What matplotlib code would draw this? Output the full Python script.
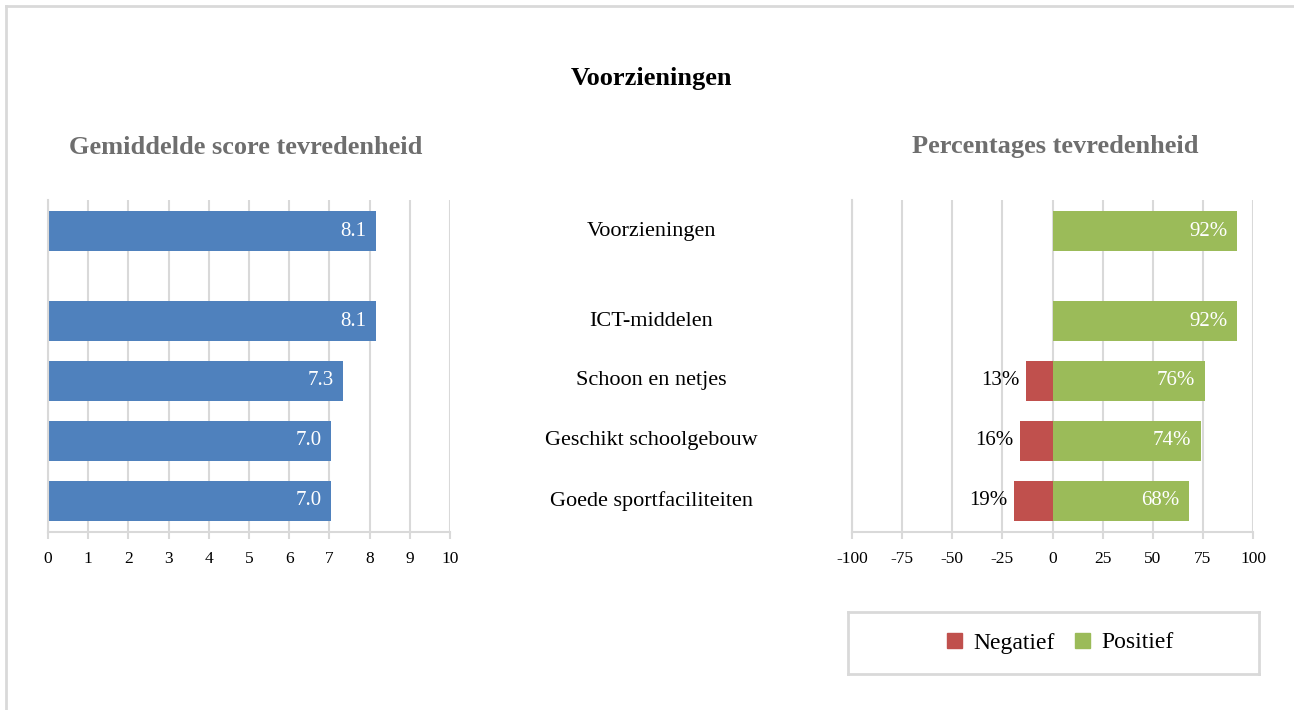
import matplotlib
matplotlib.use("Agg")
import matplotlib.pyplot as plt
from matplotlib.patches import Patch
from matplotlib.lines import Line2D

categories = ["Voorzieningen", "ICT-middelen", "Schoon en netjes",
              "Geschikt schoolgebouw", "Goede sportfaciliteiten"]
positions = [4.5, 3, 2, 1, 0]
scores = [8.15, 8.15, 7.35, 7.05, 7.05]
score_labels = ["8.1", "8.1", "7.3", "7.0", "7.0"]
negatief = [0, 0, -13, -16, -19]
positief = [92, 92, 76, 74, 68]
neg_labels = ["", "", "13%", "16%", "19%"]
pos_labels = ["92%", "92%", "76%", "74%", "68%"]
left_ticks = list(range(0, 11))
right_ticks = [-100, -75, -50, -25, 0, 25, 50, 75, 100]

BLUE = "#4F81BD"
RED = "#C0504D"
GREEN = "#9BBB59"
GRID = "#D9D9D9"
FONT = "Liberation Serif"

plt.rcParams['font.family'] = [FONT, 'DejaVu Serif']
plt.rcParams['axes.unicode_minus'] = False

W, H = 1294, 710
fig = plt.figure(figsize=(W / 100, H / 100), dpi=100)


def px_axes(x0, y0, x1, y1):
    return fig.add_axes([x0 / W, 1 - y1 / H, (x1 - x0) / W, (y1 - y0) / H])


# outer border (only top and left visible)
fig.add_artist(Line2D([6 / W, 1], [1 - 6 / H, 1 - 6 / H], color=GRID, lw=2,
                      transform=fig.transFigure))
fig.add_artist(Line2D([6 / W, 6 / W], [0, 1 - 6 / H], color=GRID, lw=2,
                      transform=fig.transFigure))

fig.text(651 / W, 1 - 79 / H, "Voorzieningen", ha="center", va="center",
         fontsize=19, fontweight="bold", color="black")
fig.text(246 / W, 1 - 147 / H, "Gemiddelde score tevredenheid", ha="center",
         va="center", fontsize=19, fontweight="bold", color="#6E6E6E")
fig.text(1055 / W, 1 - 147 / H, "Percentages tevredenheid", ha="center",
         va="center", fontsize=19, fontweight="bold", color="#6E6E6E")

ylim = (-0.517, 5.017)
bar_h = 0.667


def style_axes(ax, ticks):
    ax.set_ylim(*ylim)
    ax.set_xticks(ticks)
    ax.set_yticks([])
    ax.grid(axis="x", color=GRID, lw=1.5)
    ax.set_axisbelow(True)
    for s in ["top", "right"]:
        ax.spines[s].set_visible(False)
    for s in ["left", "bottom"]:
        ax.spines[s].set_color(GRID)
        ax.spines[s].set_linewidth(1.5)
    ax.tick_params(axis="x", direction="out", length=5, width=1.5,
                   color=GRID, labelsize=12.5, labelcolor="black", pad=9)


# left chart
axl = px_axes(48, 200, 450, 532)
axl.barh(positions, scores, height=bar_h, color=BLUE)
axl.set_xlim(0, 10)
style_axes(axl, left_ticks)
for p, v, t in zip(positions, scores, score_labels):
    axl.annotate(t, (v, p), xytext=(-7, 0), textcoords="offset points",
                 ha="right", va="center", color="white", fontsize=15)

# right chart
axr = px_axes(852, 200, 1253, 532)
axr.barh(positions, negatief, height=bar_h, color=RED, label="Negatief")
axr.barh(positions, positief, height=bar_h, color=GREEN, label="Positief")
axr.set_xlim(-100, 100)
style_axes(axr, right_ticks)
for p, v, t in zip(positions, negatief, neg_labels):
    if t:
        axr.annotate(t, (v, p), xytext=(-5, 0), textcoords="offset points",
                     ha="right", va="center", color="black", fontsize=15)
for p, v, t in zip(positions, positief, pos_labels):
    axr.annotate(t, (v, p), xytext=(-7, 0), textcoords="offset points",
                 ha="right", va="center", color="white", fontsize=15)

# category labels in the middle
for p, c in zip(positions, categories):
    y_px = 200 + (ylim[1] - p) / (ylim[1] - ylim[0]) * 332
    fig.text(651 / W, 1 - y_px / H, c, ha="center", va="center",
             fontsize=16, color="black")

# legend box
axleg = px_axes(848, 612, 1259, 674)
axleg.set_xticks([])
axleg.set_yticks([])
for s in axleg.spines.values():
    s.set_color(GRID)
    s.set_linewidth(2)
handles = [Patch(color=RED, label="Negatief"), Patch(color=GREEN, label="Positief")]
axleg.legend(handles=handles, loc="center", bbox_to_anchor=(0.5 + 7 / 411, 0.5),
             ncol=2, frameon=False,
             fontsize=17, handlelength=0.62, handleheight=0.62,
             handletextpad=0.5, columnspacing=0.85)

fig.savefig("out.png", dpi=100)
